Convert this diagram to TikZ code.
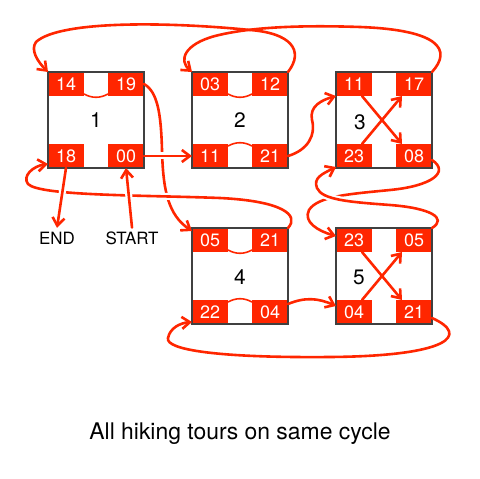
\documentclass[tikz,border=0pt]{standalone}
\usepackage{fontspec}
\setmainfont{TeX Gyre Heros}
\usetikzlibrary{arrows.meta}
\definecolor{hikered}{RGB}{255,38,0}
\definecolor{boxgray}{RGB}{64,64,64}

\begin{document}
\begin{tikzpicture}[x=1bp, y=1bp,
  every node/.style={outer sep=0pt, inner sep=0pt},
  tag/.style={fill=hikered, text=white, minimum width=36bp, minimum height=24bp, font=\fontsize{18}{18}\selectfont},
  hut/.style={draw=boxgray, line width=1.5bp, minimum size=96bp},
  num/.style={font=\fontsize{21}{21}\selectfont},
  word/.style={inner sep=4bp, font=\fontsize{17}{17}\selectfont},
  trail/.style={draw=hikered, line width=2.6bp, line cap=round, line join=round, -{Straight Barb[length=8bp,width=12bp]}},
  link/.style={draw=hikered, line width=1.6bp},
  bridge/.style={preaction={draw=white, line width=7bp, -, shorten <=8bp, shorten >=8bp}}]
\useasboundingbox (0,0) rectangle (480,-479);

\node[tag] (b1tl) at (66,-84) {14};
\node[tag] (b1tr) at (126,-84) {19};
\node[tag] (b1bl) at (66,-156) {18};
\node[tag] (b1br) at (126,-156) {00};
\node[tag] (b2tl) at (210,-84) {03};
\node[tag] (b2tr) at (270,-84) {12};
\node[tag] (b2bl) at (210,-156) {11};
\node[tag] (b2br) at (270,-156) {21};
\node[tag] (b3tl) at (354,-84) {11};
\node[tag] (b3tr) at (414,-84) {17};
\node[tag] (b3bl) at (354,-156) {23};
\node[tag] (b3br) at (414,-156) {08};
\node[tag] (b4tl) at (210,-240) {05};
\node[tag] (b4tr) at (270,-240) {21};
\node[tag] (b4bl) at (210,-312) {22};
\node[tag] (b4br) at (270,-312) {04};
\node[tag] (b5tl) at (354,-240) {23};
\node[tag] (b5tr) at (414,-240) {05};
\node[tag] (b5bl) at (354,-312) {04};
\node[tag] (b5br) at (414,-312) {21};

\node[hut] (b1) at (96,-120) {};
\node[hut] (b2) at (240,-120) {};
\node[hut] (b3) at (384,-120) {};
\node[hut] (b4) at (240,-276) {};
\node[hut] (b5) at (384,-276) {};
\node[num] (n1) at (96,-120) {1};
\node[num] (n2) at (240,-120) {2};
\node[num] (n3) at (360,-122) {3};
\node[num] (n4) at (240,-277) {4};
\node[num] (n5) at (359,-277) {5};

\node[word] (end) at (57,-238) {END};
\node[word] (start) at (132,-238) {START};
\node[font=\fontsize{23}{23}\selectfont] (caption) at (240,-434) {All hiking tours on same cycle};

\draw[link] ([yshift=2bp]b1tl.south east) to[bend right=28] ([yshift=2bp]b1tr.south west);
\draw[link] ([yshift=2bp]b2tl.south east) to[bend right=28] ([yshift=2bp]b2tr.south west);
\draw[link] ([yshift=-2bp]b2bl.north east) to[bend left=28] ([yshift=-2bp]b2br.north west);
\draw[link] ([yshift=2bp]b4tl.south east) to[bend right=28] ([yshift=2bp]b4tr.south west);
\draw[link] ([yshift=-2bp]b4bl.north east) to[bend left=28] ([yshift=-2bp]b4br.north west);

\draw[trail] (b1tr.east) .. controls (158,-92) and (161,-115) .. (162,-150) .. controls (163,-190) and (168,-215) .. ([yshift=-3bp]b4tl.north west);
\draw[trail, bridge] (b1br.east) -- (b2bl.west);
\draw[trail, bridge] (b4tr.north east) .. controls (300,-215) and (282,-201) .. (220,-198) .. controls (140,-195) and (40,-196) .. (28,-184) .. controls (22,-176) and (33,-166) .. ([yshift=4bp]b1bl.south west);
\draw[trail, bridge] (start.north) -- (b1br.south);
\draw[trail, bridge] (b1bl.south) -- (end.north);

\draw[trail] (b2tr.north east) .. controls (305,-50) and (290,-33) .. (250,-30) .. controls (170,-22) and (60,-20) .. (36,-42) .. controls (30,-50) and (38,-62) .. (b1tl.north west);
\draw[trail] (b3tr.north east) .. controls (452,-50) and (440,-30) .. (360,-27) .. controls (300,-25) and (250,-27) .. (215,-36) .. controls (185,-44) and (178,-60) .. (b2tl.north west);
\draw[trail] (b2br.east) .. controls (308,-150) and (316,-135) .. (312,-120) .. controls (309,-106) and (322,-100) .. (b3tl.south west);

\draw[trail] ([xshift=8bp]b3tl.south) -- ([xshift=6bp]b3br.north west);
\draw[trail] ([xshift=8bp]b3bl.north) -- ([xshift=6bp]b3tr.south west);
\draw[trail] ([xshift=8bp]b5tl.south) -- ([xshift=6bp]b5br.north west);
\draw[trail] ([xshift=8bp]b5bl.north) -- ([xshift=6bp]b5tr.south west);

\draw[trail] ([yshift=-4bp]b3br.east) .. controls (450,-172) and (432,-186) .. (390,-190) .. controls (350,-194) and (318,-196) .. (309,-210) .. controls (303,-222) and (318,-231) .. ([yshift=4bp]b5tl.west);
\draw[trail, bridge] (b5tr.north east) .. controls (448,-218) and (430,-208) .. (390,-205) .. controls (350,-202) and (322,-200) .. (317,-188) .. controls (313,-178) and (322,-174) .. ([yshift=1bp]b3bl.south west);

\draw[trail] ([yshift=8bp]b4br.east) .. controls (305,-297) and (318,-298) .. ([yshift=6bp]b5bl.west);
\draw[trail] ([yshift=-6bp]b5br.east) .. controls (470,-335) and (450,-356) .. (330,-357) .. controls (220,-358) and (165,-350) .. (168,-338) .. controls (170,-328) and (180,-323) .. ([yshift=2bp]b4bl.south west);
\end{tikzpicture}
\end{document}
